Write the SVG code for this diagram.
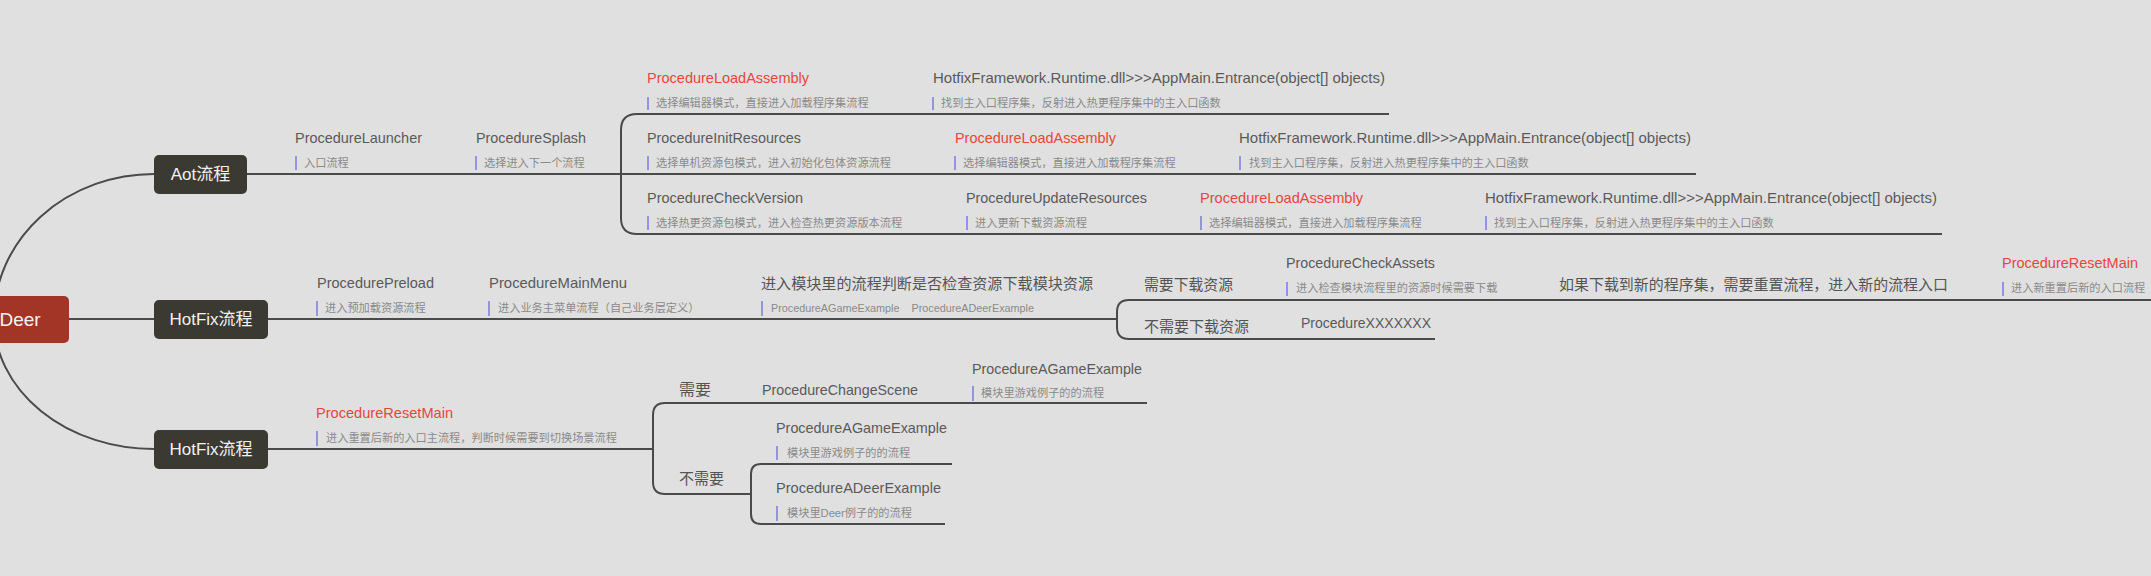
<svg xmlns="http://www.w3.org/2000/svg" width="2151" height="576" viewBox="0 0 2151 576">
<style>
text{font-family:"Liberation Sans","Noto Sans CJK SC",sans-serif}
.t{font-size:15px;fill:#5a5a5a}
.r{font-size:15px;fill:#e5473c}
.d{font-size:11.2px;fill:#8a8a8a}
.ds{font-size:10.5px;fill:#8a8a8a}
.c{font-size:15px;fill:#555555}
.b{stroke:#9494e6;stroke-width:2}
.l{stroke:#4a4a4a;stroke-width:2;fill:none}
.n{fill:#3a3a33}
.nt{font-size:17px;fill:#f2f2f2;text-anchor:middle}
</style>
<rect x="0" y="0" width="2151" height="576" fill="#e0e0e0"/>

<g id="connectors">
  <path class="l" d="M154 174 A160 145 0 0 0 -6 319 A160 130 0 0 0 154 449"/>
  <path class="l" d="M69 319 H154"/>
  <!-- Aot branch -->
  <path class="l" d="M247 174 H1696"/>
  <path class="l" d="M1389 114 H637 Q621 114 621 130 V218 Q621 234 637 234 H1942"/>
  <!-- HotFix 1 -->
  <path class="l" d="M268 319 H1117"/>
  <path class="l" d="M2151 300 H1129 Q1117 300 1117 312 V327 Q1117 339 1129 339 H1435"/>
  <!-- HotFix 2 -->
  <path class="l" d="M267 449 H653"/>
  <path class="l" d="M1147 403 H665 Q653 403 653 415 V482 Q653 494 665 494 H751"/>
  <path class="l" d="M952 464 H761 Q751 464 751 474 V514 Q751 524 761 524 H945"/>
</g>

<g id="root">
  <rect x="-29" y="296" width="98" height="47" rx="5" fill="#a33526"/>
  <text x="20" y="326" font-size="19" fill="#f4f4f4" text-anchor="middle">Deer</text>
</g>

<g id="aot">
  <rect class="n" x="154" y="155" width="93" height="39" rx="5"/>
  <text class="nt" x="200.5" y="180">Aot流程</text>
</g>
<g id="hotfix1">
  <rect class="n" x="154" y="300" width="114" height="39" rx="5"/>
  <text class="nt" x="211" y="325">HotFix流程</text>
</g>
<g id="hotfix2">
  <rect class="n" x="154" y="430" width="114" height="39" rx="5"/>
  <text class="nt" x="211" y="455">HotFix流程</text>
</g>

<!-- Aot branch topics -->
<g id="launcher">
  <text class="t" x="295" y="143" textLength="127" lengthAdjust="spacingAndGlyphs">ProcedureLauncher</text>
  <line class="b" x1="296" y1="156" x2="296" y2="170"/>
  <text class="d" x="304" y="167">入口流程</text>
</g>
<g id="splash">
  <text class="t" x="476" y="143" textLength="110" lengthAdjust="spacingAndGlyphs">ProcedureSplash</text>
  <line class="b" x1="476" y1="156" x2="476" y2="170"/>
  <text class="d" x="484" y="167">选择进入下一个流程</text>
</g>
<g id="load1">
  <text class="r" x="647" y="83" textLength="162" lengthAdjust="spacingAndGlyphs">ProcedureLoadAssembly</text>
  <line class="b" x1="648" y1="97" x2="648" y2="110"/>
  <text class="d" x="656" y="107">选择编辑器模式，直接进入加载程序集流程</text>
</g>
<g id="entry1">
  <text class="t" x="933" y="83" textLength="452" lengthAdjust="spacingAndGlyphs">HotfixFramework.Runtime.dll&gt;&gt;&gt;AppMain.Entrance(object[] objects)</text>
  <line class="b" x1="933" y1="97" x2="933" y2="110"/>
  <text class="d" x="941" y="107">找到主入口程序集，反射进入热更程序集中的主入口函数</text>
</g>
<g id="initres">
  <text class="t" x="647" y="143" textLength="154" lengthAdjust="spacingAndGlyphs">ProcedureInitResources</text>
  <line class="b" x1="648" y1="156" x2="648" y2="170"/>
  <text class="d" x="656" y="167">选择单机资源包模式，进入初始化包体资源流程</text>
</g>
<g id="load2">
  <text class="r" x="955" y="143" textLength="161" lengthAdjust="spacingAndGlyphs">ProcedureLoadAssembly</text>
  <line class="b" x1="955" y1="156" x2="955" y2="170"/>
  <text class="d" x="963" y="167">选择编辑器模式，直接进入加载程序集流程</text>
</g>
<g id="entry2">
  <text class="t" x="1239" y="143" textLength="452" lengthAdjust="spacingAndGlyphs">HotfixFramework.Runtime.dll&gt;&gt;&gt;AppMain.Entrance(object[] objects)</text>
  <line class="b" x1="1240" y1="156" x2="1240" y2="170"/>
  <text class="d" x="1249" y="167">找到主入口程序集，反射进入热更程序集中的主入口函数</text>
</g>
<g id="checkver">
  <text class="t" x="647" y="203" textLength="156" lengthAdjust="spacingAndGlyphs">ProcedureCheckVersion</text>
  <line class="b" x1="648" y1="216" x2="648" y2="230"/>
  <text class="d" x="656" y="227">选择热更资源包模式，进入检查热更资源版本流程</text>
</g>
<g id="updateres">
  <text class="t" x="966" y="203" textLength="181" lengthAdjust="spacingAndGlyphs">ProcedureUpdateResources</text>
  <line class="b" x1="967" y1="216" x2="967" y2="230"/>
  <text class="d" x="975" y="227">进入更新下载资源流程</text>
</g>
<g id="load3">
  <text class="r" x="1200" y="203" textLength="163" lengthAdjust="spacingAndGlyphs">ProcedureLoadAssembly</text>
  <line class="b" x1="1201" y1="216" x2="1201" y2="230"/>
  <text class="d" x="1209" y="227">选择编辑器模式，直接进入加载程序集流程</text>
</g>
<g id="entry3">
  <text class="t" x="1485" y="203" textLength="452" lengthAdjust="spacingAndGlyphs">HotfixFramework.Runtime.dll&gt;&gt;&gt;AppMain.Entrance(object[] objects)</text>
  <line class="b" x1="1486" y1="216" x2="1486" y2="230"/>
  <text class="d" x="1494" y="227">找到主入口程序集，反射进入热更程序集中的主入口函数</text>
</g>

<!-- HotFix 1 topics -->
<g id="preload">
  <text class="t" x="317" y="288" textLength="117" lengthAdjust="spacingAndGlyphs">ProcedurePreload</text>
  <line class="b" x1="317" y1="301" x2="317" y2="316"/>
  <text class="d" x="325" y="312">进入预加载资源流程</text>
</g>
<g id="mainmenu">
  <text class="t" x="489" y="288" textLength="138" lengthAdjust="spacingAndGlyphs">ProcedureMainMenu</text>
  <line class="b" x1="489" y1="301" x2="489" y2="316"/>
  <text class="d" x="498" y="312">进入业务主菜单流程（自己业务层定义）</text>
</g>
<g id="module">
  <text class="c" x="761" y="289" textLength="332" lengthAdjust="spacingAndGlyphs">进入模块里的流程判断是否检查资源下载模块资源</text>
  <line class="b" x1="762" y1="301" x2="762" y2="316"/>
  <text class="ds" x="771" y="312" textLength="263" lengthAdjust="spacingAndGlyphs" xml:space="preserve">ProcedureAGameExample    ProcedureADeerExample</text>
</g>
<g id="needdl">
  <text class="c" x="1144" y="290" textLength="89" lengthAdjust="spacingAndGlyphs">需要下载资源</text>
</g>
<g id="checkassets">
  <text class="t" x="1286" y="268" textLength="149" lengthAdjust="spacingAndGlyphs">ProcedureCheckAssets</text>
  <line class="b" x1="1287" y1="282" x2="1287" y2="296"/>
  <text class="d" x="1296" y="292">进入检查模块流程里的资源时候需要下载</text>
</g>
<g id="ifnew">
  <text class="c" x="1559" y="290" textLength="389" lengthAdjust="spacingAndGlyphs">如果下载到新的程序集，需要重置流程，进入新的流程入口</text>
</g>
<g id="resetmain1">
  <text class="r" x="2002" y="268" textLength="136" lengthAdjust="spacingAndGlyphs">ProcedureResetMain</text>
  <line class="b" x1="2003" y1="282" x2="2003" y2="296"/>
  <text class="d" x="2011" y="292">进入新重置后新的入口流程</text>
</g>
<g id="noneeddl">
  <text class="c" x="1144" y="332" textLength="105" lengthAdjust="spacingAndGlyphs">不需要下载资源</text>
</g>
<g id="xxx">
  <text class="t" x="1301" y="328" textLength="130" lengthAdjust="spacingAndGlyphs">ProcedureXXXXXXX</text>
</g>

<!-- HotFix 2 topics -->
<g id="resetmain2">
  <text class="r" x="316" y="418" textLength="137" lengthAdjust="spacingAndGlyphs">ProcedureResetMain</text>
  <line class="b" x1="317" y1="431" x2="317" y2="446"/>
  <text class="d" x="326" y="442">进入重置后新的入口主流程，判断时候需要到切换场景流程</text>
</g>
<g id="need">
  <text class="c" x="679" y="395" textLength="32" lengthAdjust="spacingAndGlyphs">需要</text>
</g>
<g id="changescene">
  <text class="t" x="762" y="395" textLength="156" lengthAdjust="spacingAndGlyphs">ProcedureChangeScene</text>
</g>
<g id="agame1">
  <text class="t" x="972" y="374" textLength="170" lengthAdjust="spacingAndGlyphs">ProcedureAGameExample</text>
  <line class="b" x1="973" y1="386" x2="973" y2="401"/>
  <text class="d" x="981" y="397">模块里游戏例子的的流程</text>
</g>
<g id="noneed">
  <text class="c" x="679" y="484" textLength="45" lengthAdjust="spacingAndGlyphs">不需要</text>
</g>
<g id="agame2">
  <text class="t" x="776" y="433" textLength="171" lengthAdjust="spacingAndGlyphs">ProcedureAGameExample</text>
  <line class="b" x1="777" y1="446" x2="777" y2="460"/>
  <text class="d" x="787" y="457">模块里游戏例子的的流程</text>
</g>
<g id="adeer">
  <text class="t" x="776" y="493" textLength="165" lengthAdjust="spacingAndGlyphs">ProcedureADeerExample</text>
  <line class="b" x1="777" y1="506" x2="777" y2="521"/>
  <text class="d" x="787" y="517">模块里Deer例子的的流程</text>
</g>
</svg>
